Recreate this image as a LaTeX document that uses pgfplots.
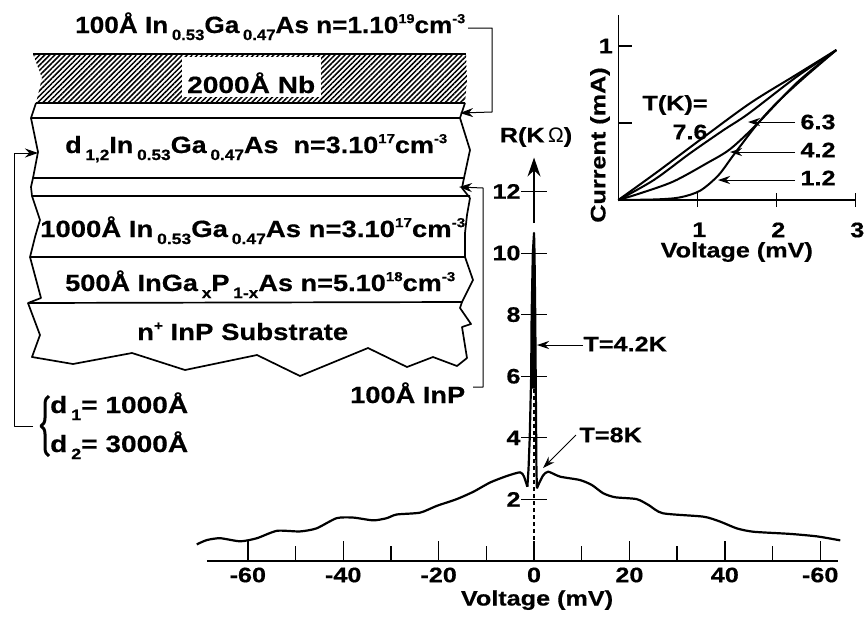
\documentclass[border=0pt]{standalone}
\usepackage{fontspec}
\usepackage{graphicx}
\setmainfont[FakeStretch=1.2,BoldFeatures={FakeBold=0.5}]{Liberation Sans}
\newfontfamily\omegafont{Liberation Sans}
\usepackage{pgfplots}
\pgfplotsset{compat=1.18}
\usetikzlibrary{arrows.meta,patterns.meta,decorations.pathreplacing}
\newcommand\fA{\fontsize{23.5}{26}\selectfont\bfseries}
\newcommand\fB{\fontsize{21}{24}\selectfont\bfseries}
\newcommand\ssub[1]{\,\raisebox{-0.3em}{\fontsize{15}{15}\selectfont #1}}
\newcommand\ssup[1]{\raisebox{0.42em}{\fontsize{13}{13}\selectfont #1}}
\newcommand\fitw[2]{\resizebox{#1pt}{\height}{#2}}
\pgfplotstableread{
V R
-70.7 0.54
-68.6 0.68
-65.8 0.74
-61.6 0.64
-58.1 0.74
-53.9 0.98
-49.1 0.96
-45.6 1.06
-41.4 1.39
-37.9 1.41
-33.7 1.32
-30.9 1.39
-28.8 1.51
-23.9 1.57
-20.4 1.79
-16.2 2.01
-12.7 2.25
-9.2 2.55
-5.7 2.76
-2.9 2.88
-2.1 2.74
-1.4 2.41
}\eightleft
\pgfplotstableread{
V R
0.6 2.36
1.2 2.57
1.96 2.79
3.0 2.9
5.45 2.74
9.6 2.63
12.1 2.47
14.5 2.2
17 2.07
21.5 2.01
24 1.82
27 1.55
35.5 1.44
39 1.28
42.5 1.06
46 0.95
53.7 0.88
59.3 0.8
64.2 0.67
}\eightright
\pgfplotstableread{
V R
-1.4 2.41
-1.15 3
-0.9 4
-0.6 6
-0.5 8
-0.25 10
0 10.65
0.1 10
0.25 8
0.35 6
0.45 4
0.5 3
0.6 2.36
}\fourspike
\begin{document}
\begin{tikzpicture}[x=1pt,y=-1pt,line join=round]
\path[use as bounding box] (0,0) rectangle (864,619);
% ---- layer stack ----
\begin{scope}[line width=1.7pt]
\fill[pattern={Lines[distance=3.6pt,angle=45,line width=1.5pt]}] (33,54)--(466,54)--(467,80)--(465,103)--(36,103)--(42,78)--cycle;
\fill[white] (182,57) rectangle (321,97);
\draw (33,54)--(466,54) (36,103)--(465,103);
\draw (36,103)--(31,118)--(460,118)--(465,103);
\draw (31,118)--(38,152)--(33,178)--(464,178)--(470,150)--(460,118);
\draw (33,178)--(31,187)--(32,196)--(470,196) (464,178)--(462,188)--(470,198);
\draw (32,196)--(40,220)--(35,237)--(30,257)--(465,257)--(465,233)--(467,215)--(470,198);
\draw (30,257)--(41,298)--(28,303)--(462,302)--(473,280)--(465,257);
\draw (28,303)--(40,335)--(32,357)--(73,364)--(132,353)--(185,370)--(257,355)--(300,376)--(368,348)--(407,367)--(433,357)--(457,366)--(467,358)--(462,327)--(471,324)--(460,308)--(462,302);
\end{scope}
\begin{scope}[every node/.style={inner sep=0pt,font=\fA}]
\node[anchor=base west] at (75,33) {\fitw{390}{100Å In\ssub{0.53}Ga\ssub{0.47}As n=1.10\ssup{19}cm\ssup{-3}}};
\node[anchor=base west] at (187,93) {\fitw{128}{2000Å Nb}};
\node[anchor=base west] at (65,153) {\fitw{382}{d\ssub{1,2}In\ssub{0.53}Ga\ssub{0.47}As\ \ n=3.10\ssup{17}cm\ssup{-3}}};
\node[anchor=base west] at (40,237) {\fitw{425}{1000Å In\ssub{0.53}Ga\ssub{0.47}As n=3.10\ssup{17}cm\ssup{-3}}};
\node[anchor=base west] at (65,291) {\fitw{390}{500Å InGa\ssub{x}P\ssub{1-x}As n=5.10\ssup{18}cm\ssup{-3}}};
\node[anchor=base west] at (137,340) {\fitw{211}{n\ssup{+} InP Substrate}};
\node[anchor=base west] at (350,403) {\fitw{115}{100Å InP}};
\node[anchor=base west] at (50,413) {\fitw{138}{d\ssub{1}= 1000Å}};
\node[anchor=base west] at (50,452) {\fitw{138}{d\ssub{2}= 3000Å}};
\end{scope}
\begin{scope}[line width=1pt,>={Stealth[length=13pt,width=9pt]}]
\draw[->] (468,28)--(492,28)--(492,112)--(460,113);
\draw[->] (473,387)--(483,387)--(483,188)--(459,187);
\draw[->] (33,426)--(14,426)--(14,153)--(38,153);
\draw[line width=3pt,decorate,decoration={brace,amplitude=8pt}] (49,456)--(49,396) ;
\end{scope}
% ---- main R(V) plot ----
\begin{axis}[at={(206.8pt,-561pt)},anchor=south west,x=4.77pt,y=30.8pt,
  xmin=-68.6,xmax=63.7,ymin=0,ymax=13.1,clip=false,
  axis x line=bottom,axis y line=none,
  axis line style={line width=1.6pt,-},
  xtick={-60,-40,-20,0,20,40,60},
  xticklabels={-60,-40,-20,0,20,40,-60},
  minor xtick={-50,-30,-10,10,30,50},
  tick align=inside,major tick length=20pt,minor tick length=15pt,
  every tick/.style={line width=1.4pt,black},
  xtick pos=bottom,
  xticklabel style={font=\fB,yshift=-3pt},
  xlabel={Voltage (mV)},
  every axis x label/.style={at={(axis cs:0.63,-1.27)},anchor=center,font=\fB},
  ]
\addplot[line width=2.2pt,smooth,tension=0.4] table[x=V,y=R] {\eightleft};
\addplot[line width=2.2pt,smooth,tension=0.4] table[x=V,y=R] {\eightright};
\addplot[line width=2.2pt] table[x=V,y=R] {\fourspike};
\addplot[fill=black,draw=none] coordinates {(-0.58,5.6)(-0.5,8)(-0.25,10)(0,10.65)(0.1,10)(0.25,8)(0.35,5.6)} -- cycle;
\addplot[line width=1.8pt,dash pattern=on 4pt off 3pt] coordinates {(0,0)(0,5.6)};
\addplot[line width=1.2pt,-{Stealth[length=19pt,width=13pt]}] coordinates {(0,10.97)(0,13.1)};
\end{axis}
\begin{axis}[at={(206.8pt,-561pt)},anchor=south west,x=4.77pt,y=30.8pt,
  xmin=-68.6,xmax=63.7,ymin=0,ymax=13.1,clip=false,
  axis x line=none,axis y line=center,
  axis line style={draw=none},
  xtick=\empty,
  ytick={2,4,6,8,10,12},yticklabels={2,4,6,8,10,12},
  tick align=center,major tick length=26pt,
  every tick/.style={line width=1pt,black},
  yticklabel style={font=\fB,xshift=3pt},
  ]
\addplot[draw=none] coordinates {(0,0)(0,13)};
\end{axis}
% ---- inset I(V) ----
\begin{axis}[at={(618.3pt,-200pt)},anchor=south west,x=79pt,y=154pt,
  xmin=0,xmax=3,ymin=0,ymax=1.2,clip=false,
  axis lines=left,axis line style={line width=1.6pt,-},
  xtick={1,2,3},xticklabels={1,2,3},ytick={0.5,1},yticklabels={,1},
  tick align=center,major tick length=14pt,
  every tick/.style={line width=1.2pt,black},
  ytick align=inside,
  xticklabel style={font=\fB,yshift=-12pt,xshift=2pt},
  yticklabel style={font=\fB,xshift=-2pt},
  xlabel={Voltage (mV)},ylabel={Current (mA)},
  every axis x label/.style={at={(axis cs:1.5,-0.338)},anchor=center,font=\fB},
  every axis y label/.style={at={(axis cs:-0.232,0.357)},anchor=center,rotate=90,font=\fB},
  ]
\addplot[line width=2pt,smooth] coordinates {(0,0)(0.5,0.185)(1.034,0.39)(1.667,0.628)(2.257,0.815)(2.76,0.974)};
\addplot[line width=2pt,smooth] coordinates {(0,0)(0.45,0.13)(0.907,0.303)(1.329,0.453)(1.646,0.56)(2.257,0.8)(2.76,0.974)};
\addplot[line width=2pt,smooth] coordinates {(0,0)(0.274,0.043)(0.696,0.12)(1.118,0.238)(1.414,0.33)(1.75,0.49)(2.257,0.76)(2.76,0.974)};
\addplot[line width=2pt,smooth] coordinates {(0,0)(0.485,0.004)(0.78,0.017)(1.034,0.06)(1.266,0.16)(1.456,0.29)(1.75,0.487)(2.0,0.628)(2.342,0.79)(2.76,0.974)};
\end{axis}
% ---- annotations ----
\begin{scope}[every node/.style={inner sep=0pt,font=\fB},line width=1pt,>={Stealth[length=12pt,width=8pt]}]
\node[anchor=center] at (536,137) {R(K\,{\omegafont\mdseries Ω})};
\node[anchor=west] at (583,344) {T=4.2K};
\draw[->] (583,345)--(537,345);
\node[anchor=west] at (579,435) {T=8K};
\draw[->] (576,435)--(543,468);
\node[anchor=west] at (642,105) {T(K)=};
\node[anchor=west] at (672,132) {7.6};
\node[anchor=west] at (800,122) {6.3};
\node[anchor=west] at (800,150) {4.2};
\node[anchor=west] at (800,178) {1.2};
\draw[->] (795,122)--(748,122);
\draw[->] (795,152)--(730,152);
\draw[->] (795,180)--(718,180);
\end{scope}
\end{tikzpicture}
\end{document}
